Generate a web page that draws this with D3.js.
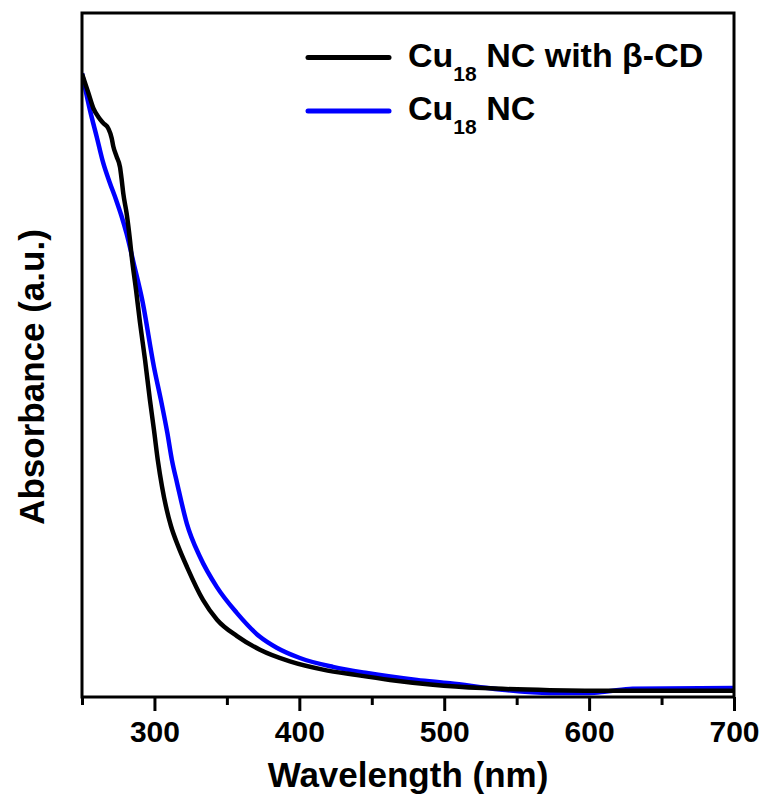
<!DOCTYPE html>
<html>
<head>
<meta charset="utf-8">
<script src="https://cdn.jsdelivr.net/npm/d3@7"></script>
<style>
  html, body { margin: 0; padding: 0; background: #ffffff; }
  svg { display: block; }
  text { font-family: "Liberation Sans", Arial, sans-serif; font-weight: bold; fill: #000; }
</style>
</head>
<body>
<svg id="chart" width="766" height="798"></svg>
<script>
// ---- data ----
const wavelengthWithCD = [250, 254.4, 257.8, 261.3, 264.7, 268.2, 270.5, 271.6, 273.9, 276.2, 277.4, 278.5, 280.8, 283.1, 284.3, 287.3, 290.0, 293.5, 296.9, 299.7, 302.4, 305.2, 308.0, 311.4, 316.3, 322.5, 333.5, 343.2, 357.0, 372.8, 393.5, 416.3, 439.8, 462.6, 492.2, 526.7, 573.0, 621.3, 700];
const absWithCD        = [0.911, 0.883, 0.861, 0.848, 0.839, 0.831, 0.817, 0.805, 0.790, 0.775, 0.756, 0.736, 0.707, 0.668, 0.644, 0.595, 0.548, 0.493, 0.434, 0.390, 0.345, 0.308, 0.278, 0.250, 0.221, 0.190, 0.142, 0.113, 0.089, 0.069, 0.052, 0.040, 0.032, 0.025, 0.018, 0.013, 0.010, 0.009, 0.009];

const wavelengthNC = [250, 255.5, 260.4, 264.5, 269.0, 273.5, 277.0, 280.7, 285.9, 291.6, 299.7, 304.5, 308.9, 312.1, 315.6, 322.3, 331.4, 343.0, 356.8, 372.8, 384.4, 400.4, 423.2, 446.7, 481.2, 504.0, 538.5, 573.0, 600.0, 612.0, 630.0, 700];
const absNC        = [0.912, 0.858, 0.817, 0.782, 0.753, 0.727, 0.705, 0.678, 0.632, 0.580, 0.482, 0.434, 0.386, 0.346, 0.313, 0.254, 0.205, 0.161, 0.123, 0.088, 0.072, 0.057, 0.044, 0.035, 0.025, 0.020, 0.011, 0.006, 0.006, 0.008, 0.012, 0.013];

const xMajorTicks = [300, 400, 500, 600, 700];
const xMinorTicks = [250, 350, 450, 550, 650];
const seriesNames = ["Cu", "18", " NC with \u03B2-CD", " NC"];
const seriesColors = ["#000000", "#0000ff"];
const xTitle = "Wavelength (nm)";
const yTitle = "Absorbance (a.u.)";

// ---- layout ----
const svg = d3.select("#chart");
const L = 82, R = 734, T = 13, B = 697;

const x = d3.scaleLinear().domain([250, 700]).range([L, R]);
const y = d3.scaleLinear().domain([0, 1]).range([B, T]);

const line = d3.line().x(d => x(d[0])).y(d => y(d[1])).curve(d3.curveMonotoneX);

const ncData = wavelengthNC.map((w, i) => [w, absNC[i]]);
const cdData = wavelengthWithCD.map((w, i) => [w, absWithCD[i]]);

svg.append("clipPath").attr("id", "clip")
  .append("rect").attr("x", L).attr("y", T).attr("width", R - L).attr("height", B - T);

const plot = svg.append("g").attr("clip-path", "url(#clip)");
plot.append("path").datum(ncData).attr("d", line)
  .attr("fill", "none").attr("stroke", seriesColors[1]).attr("stroke-width", 4.5).attr("stroke-linejoin", "round");
plot.append("path").datum(cdData).attr("d", line)
  .attr("fill", "none").attr("stroke", seriesColors[0]).attr("stroke-width", 4.5).attr("stroke-linejoin", "round");

// frame
svg.append("rect").attr("x", L).attr("y", T).attr("width", R - L).attr("height", B - T)
  .attr("fill", "none").attr("stroke", "#000").attr("stroke-width", 3);

// x axis (major + minor ticks)
const xAxisMajor = d3.axisBottom(x).tickValues(xMajorTicks).tickSize(14).tickPadding(10).tickFormat(d3.format("d"));
const gx = svg.append("g").attr("transform", `translate(0,${B})`).call(xAxisMajor);
gx.select(".domain").remove();
gx.selectAll(".tick line").attr("stroke", "#000").attr("stroke-width", 3);
gx.selectAll(".tick text").style("font-size", "30px").style("font-family", '"Liberation Sans", Arial, sans-serif')
  .style("font-weight", "bold").attr("fill", "#000").attr("dy", "0.71em");

const xAxisMinor = d3.axisBottom(x).tickValues(xMinorTicks).tickSize(8).tickFormat("");
const gxm = svg.append("g").attr("transform", `translate(0,${B})`).call(xAxisMinor);
gxm.select(".domain").remove();
gxm.selectAll(".tick line").attr("stroke", "#000").attr("stroke-width", 3);

// axis titles
svg.append("text").attr("x", (L + R) / 2).attr("y", 787).attr("text-anchor", "middle")
  .style("font-size", "35px").text(xTitle);
svg.append("text").attr("transform", `translate(44,${(T + B) / 2 + 22}) rotate(-90)`).attr("text-anchor", "middle")
  .style("font-size", "35px").text(yTitle);

// legend
const legend = svg.append("g");
const legRows = [
  { color: seriesColors[0], yLine: 57.5, yBase: 67, rest: seriesNames[2] },
  { color: seriesColors[1], yLine: 111, yBase: 120, rest: seriesNames[3] }
];
legRows.forEach(r => {
  legend.append("line").attr("x1", 308).attr("x2", 389).attr("y1", r.yLine).attr("y2", r.yLine)
    .attr("stroke", r.color).attr("stroke-width", 5).attr("stroke-linecap", "round");
  const t = legend.append("text").attr("x", 408).attr("y", r.yBase).style("font-size", "34px");
  t.append("tspan").text(seriesNames[0]);
  t.append("tspan").attr("dy", 14).style("font-size", "21px").text(seriesNames[1]);
  t.append("tspan").attr("dy", -14).text(r.rest);
});
</script>
</body>
</html>
